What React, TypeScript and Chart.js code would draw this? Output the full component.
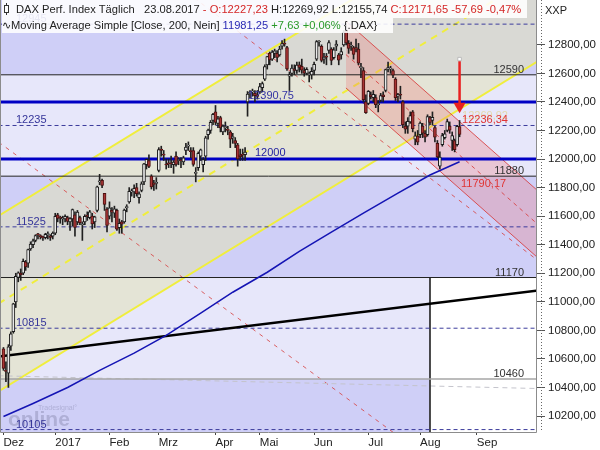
import React, { useEffect, useRef } from "react";
import { Chart, registerables } from "chart.js";

Chart.register(...registerables);

// ---------------- data ----------------
const monthTickIdx = [0, 21, 43, 63, 86, 104, 126, 148, 169, 192];
const monthTickLabels = ["Dez", "2017", "Feb", "Mrz", "Apr", "Mai", "Jun", "Jul", "Aug", "Sep"];
const priceTicks = [10200, 10400, 10600, 10800, 11000, 11200, 11400, 11600, 11800, 12000, 12200, 12400, 12600, 12800];

// daily OHLC, 01.12.2016 .. 23.08.2017
const opens = [
  10670, 10520, 10500, 10690, 10790, 11000, 11170, 11200, 11200, 11280, 11270, 11370, 11400, 11430, 11470, 11460, 11450, 11450, 11470, 11460, 11460,
  11480, 11610, 11590, 11580, 11580, 11590, 11560, 11580, 11610, 11560, 11590, 11540, 11560, 11600, 11590, 11600, 11560, 11640, 11840, 11850, 11760, 11650,
  11600, 11640, 11620, 11640, 11520, 11560, 11560, 11660, 11700, 11770, 11770, 11800, 11730, 11780, 11840, 11960, 11990, 11880, 11830, 11830,
  11920, 12070, 12030, 11960, 11970, 11970, 11960, 12020, 11990, 11990, 11980, 12060, 12090, 12060, 12060, 11900, 11940, 12020, 11960, 12020, 12170, 12200, 12270,
  12330, 12250, 12290, 12190, 12220, 12210, 12190, 12150, 12130, 12100, 12030, 12030, 12030, 12400, 12460, 12470, 12460, 12450,
  12470, 12500, 12560, 12660, 12740, 12700, 12740, 12740, 12730, 12790, 12810, 12780, 12580, 12600, 12630, 12620, 12660, 12650, 12620, 12600, 12590, 12590,
  12620, 12700, 12820, 12790, 12700, 12720, 12760, 12770, 12710, 12790, 12730, 12730, 12800, 12900, 12810, 12790, 12780, 12780, 12770, 12640, 12620, 12400,
  12390, 12450, 12430, 12430, 12380, 12410, 12450, 12480, 12630, 12630, 12620, 12560, 12440, 12450, 12400, 12230, 12230, 12260, 12330, 12140, 12160,
  12170, 12230, 12180, 12170, 12290, 12270, 12220, 12110, 11950, 12100, 12150, 12200, 12230, 12130, 12130, 12100, 12227,
];
const highs = [
  10680, 10580, 10700, 10790, 10990, 11200, 11210, 11230, 11300, 11290, 11370, 11420, 11440, 11470, 11480, 11470, 11460, 11480, 11490, 11470, 11490,
  11620, 11620, 11600, 11600, 11610, 11600, 11590, 11650, 11630, 11640, 11600, 11560, 11610, 11630, 11640, 11620, 11600, 11810, 11893, 11860, 11760, 11660,
  11700, 11660, 11670, 11650, 11580, 11570, 11650, 11680, 11800, 11790, 11820, 11830, 11770, 11840, 11970, 12000, 12030, 11890, 11850, 11870,
  12080, 12090, 12060, 12000, 12000, 12020, 11990, 12050, 12010, 12010, 12020, 12110, 12120, 12080, 12080, 11940, 12050, 12070, 12010, 12160, 12210, 12270, 12320,
  12375, 12300, 12300, 12240, 12260, 12230, 12200, 12180, 12150, 12110, 12070, 12070, 12080, 12473, 12480, 12490, 12480, 12480,
  12530, 12540, 12660, 12720, 12750, 12760, 12770, 12760, 12790, 12830, 12840, 12790, 12610, 12660, 12660, 12680, 12680, 12700, 12640, 12640, 12610, 12640,
  12680, 12830, 12830, 12800, 12740, 12740, 12830, 12780, 12780, 12830, 12740, 12780, 12900, 12951, 12830, 12820, 12790, 12840, 12810, 12670, 12640, 12450,
  12480, 12470, 12480, 12450, 12410, 12460, 12470, 12630, 12680, 12650, 12630, 12570, 12460, 12510, 12410, 12260, 12290, 12330, 12340, 12190, 12200,
  12260, 12250, 12200, 12310, 12300, 12330, 12230, 12130, 12050, 12180, 12200, 12280, 12260, 12190, 12140, 12236, 12270,
];
const lows = [
  10520, 10440, 10400, 10660, 10780, 10960, 11140, 11150, 11190, 11220, 11240, 11360, 11380, 11420, 11440, 11440, 11430, 11440, 11440, 11430, 11440,
  11470, 11560, 11550, 11540, 11560, 11540, 11500, 11530, 11460, 11540, 11540, 11430, 11540, 11570, 11580, 11510, 11520, 11630, 11820, 11800, 11640, 11490,
  11580, 11560, 11590, 11500, 11480, 11480, 11550, 11630, 11690, 11740, 11730, 11740, 11690, 11770, 11820, 11930, 11940, 11790, 11780, 11790,
  11910, 12020, 11990, 11930, 11940, 11940, 11900, 11950, 11960, 11940, 11960, 12030, 12060, 12010, 11950, 11840, 11920, 11990, 11910, 11990, 12140, 12180, 12240,
  12240, 12220, 12190, 12170, 12190, 12170, 12080, 12110, 12080, 11950, 11990, 11990, 11990, 12300, 12430, 12440, 12400, 12420,
  12460, 12470, 12550, 12630, 12660, 12690, 12710, 12680, 12720, 12770, 12790, 12620, 12480, 12580, 12590, 12600, 12610, 12600, 12580, 12590, 12540, 12560,
  12590, 12690, 12790, 12680, 12670, 12660, 12740, 12660, 12700, 12760, 12660, 12700, 12790, 12800, 12740, 12760, 12700, 12750, 12660, 12570, 12400, 12320,
  12380, 12420, 12400, 12360, 12330, 12400, 12400, 12470, 12610, 12600, 12570, 12410, 12400, 12420, 12220, 12180, 12180, 12250, 12190, 12100, 12100,
  12150, 12150, 12120, 12160, 12240, 12240, 12120, 12010, 11930, 12090, 12140, 12190, 12180, 12060, 12050, 12090, 12156,
];
const closes = [
  10534, 10513, 10684, 10775, 10986, 11179, 11203, 11190, 11284, 11244, 11366, 11404, 11427, 11464, 11469, 11456, 11449, 11473, 11475, 11451, 11481,
  11599, 11584, 11585, 11585, 11599, 11563, 11583, 11646, 11521, 11629, 11555, 11540, 11599, 11598, 11630, 11545, 11595, 11806, 11848, 11815, 11682, 11535,
  11659, 11627, 11651, 11509, 11549, 11543, 11643, 11667, 11774, 11771, 11794, 11757, 11757, 11827, 11967, 11998, 11948, 11804, 11823, 11834,
  12067, 12060, 12027, 11958, 11966, 11967, 11978, 11963, 11990, 11988, 12009, 12083, 12095, 12052, 11962, 11904, 12040, 12064, 11996, 12149, 12203, 12257, 12313,
  12257, 12282, 12218, 12230, 12225, 12201, 12139, 12154, 12109, 12000, 12016, 12027, 12049, 12455, 12468, 12473, 12444, 12438,
  12507, 12528, 12648, 12717, 12694, 12749, 12758, 12712, 12770, 12808, 12804, 12631, 12591, 12638, 12620, 12659, 12642, 12622, 12602, 12628, 12599, 12615,
  12664, 12823, 12823, 12690, 12714, 12714, 12815, 12690, 12765, 12806, 12692, 12753, 12888, 12814, 12774, 12794, 12733, 12771, 12671, 12647, 12416, 12325,
  12475, 12437, 12453, 12381, 12389, 12445, 12437, 12627, 12641, 12632, 12587, 12430, 12452, 12447, 12240, 12209, 12264, 12305, 12212, 12162, 12118,
  12251, 12182, 12154, 12297, 12257, 12293, 12154, 12015, 12014, 12165, 12177, 12263, 12203, 12165, 12065, 12229, 12172,
];

// 200-day simple moving average
const maIdx = [0, 12, 26, 39, 53, 66, 80, 93, 107, 120, 133, 146, 160, 173, 185];
const maVals = [10197, 10288, 10400, 10520, 10640, 10765, 10920, 11067, 11207, 11354, 11488, 11621, 11761, 11888, 11981];

// horizontal levels
const thickLevels = [12400, 12000];
const solidLevels = [12590, 11880, 11170];
const grayLevels = [10460];
const dashedLevels = [12945, 12235, 11525, 10815, 10105];

// background zones between the solid levels
const bandTops = [13300, 12590, 11880, 11170, 10460];
const bandBottoms = [12590, 11880, 11170, 10460, 9900];
const bandEnds = [219, 219, 219, 173, 173];
const bandDark = [true, false, true, false, true];

// drawn lines [x1, y1, x2, y2] in (bar index, price)
const yellowUpper = [-2, 11602, 218, 13927];
const yellowLower = [-2, 10373, 218, 12698];
const yellowMid = [-2, 10988, 218, 13312];
const pinkUpper = [138.9, 12966, 218, 11758];
const pinkLower = [138.9, 12498, 218, 11289];
const pinkMid = [138.9, 12732, 218, 11523];
const redDashA = [-2, 12119, 218, 9324];
const redDashB = [60, 13358, 218, 11273];
const blackTrend = [-2, 10617, 218, 11082];
const grayDash = [-2, 10482, 218, 10392];
const vLine = [173, 11170, 173, 9900];
const arrowLine = [185, 12700, 185, 12370];

// text marks
const rightLabels = ["12590", "11880", "11170", "10460"];
const rightLabelVals = [12590, 11880, 11170, 10460];
const leftLabels = ["12945", "12235", "11525", "10815", "10105"];
const leftLabelVals = [12945, 12235, 11525, 10815, 10105];
const noteTexts = ["12000", "12390,75", "12269,92", "12236,34", "11790,17"];
const noteIdx = [102, 99.2, 186, 186, 185.6];
const noteVals = [12000, 12390.75, 12269.92, 12236.34, 11790.17];

// ---------------- styling ----------------
const X_MIN = -1.0;
const X_MAX = 216.0;
const Y_MIN = 10088;
const Y_MAX = 13114;
const DARK = "#cfcff7";
const LIGHT = "#e7e7fa";
const FONT = '"Liberation Sans", Arial, sans-serif';
const noteColors = ["#2323a0", "#3434a4", "rgba(225,205,110,0.55)", "#e03434", "#e03434"];
const noteDy = [-3, -4, -2, -2, -2];

const seg = (a: number[]) => [
  { x: a[0], y: a[1] },
  { x: a[2], y: a[3] },
];
const hseg = (v: number, x2 = 219) => [
  { x: -2, y: v },
  { x: x2, y: v },
];

function line(data: any[], color: string, width: number, dash: number[], order: number, extra: any = {}) {
  return {
    type: "line",
    data,
    borderColor: color,
    borderWidth: width,
    borderDash: dash,
    pointRadius: 0,
    fill: false,
    tension: 0,
    order,
    ...extra,
  };
}

function buildDatasets() {
  const ds: any[] = [];
  bandTops.forEach((top, i) => {
    ds.push({
      type: "line",
      data: hseg(top, bandEnds[i]),
      borderWidth: 0,
      borderColor: "rgba(0,0,0,0)",
      pointRadius: 0,
      fill: { value: bandBottoms[i] },
      backgroundColor: bandDark[i] ? DARK : LIGHT,
      order: 100,
    });
  });
  const iYL = ds.length;
  ds.push(line(seg(yellowLower), "#f0ee3c", 2, [], 89));
  ds.push(line(seg(yellowUpper), "#f0ee3c", 2, [], 90, { fill: iYL, backgroundColor: "rgba(226,226,184,0.55)" }));
  ds.push(line(seg(yellowMid), "#f0ee3c", 2, [7, 6], 88));
  const iPL = ds.length;
  ds.push(line(seg(pinkLower), "rgba(215,60,60,0.85)", 1, [], 84));
  ds.push(line(seg(pinkUpper), "rgba(215,60,60,0.85)", 1, [], 85, { fill: iPL, backgroundColor: "rgba(235,110,110,0.27)" }));
  ds.push(line(seg(pinkMid), "rgba(215,60,60,0.85)", 1, [4, 4], 83));
  ds.push(line(seg(redDashA), "rgba(215,70,70,0.85)", 1, [4, 5], 82));
  ds.push(line(seg(redDashB), "rgba(215,70,70,0.85)", 1, [4, 5], 82));
  ds.push(line(seg(grayDash), "#c4c4cc", 1, [5, 4], 81));
  grayLevels.forEach((v) => ds.push(line(hseg(v), "#a6a6a6", 1.5, [], 80)));
  dashedLevels.forEach((v) => ds.push(line(hseg(v), "#3c3c9c", 1, [4, 3], 80)));
  solidLevels.forEach((v) => ds.push(line(hseg(v), "#222222", 1, [], 80)));
  ds.push(line(seg(vLine), "#333333", 1, [], 80));
  thickLevels.forEach((v) => ds.push(line(hseg(v), "#0000c4", 3, [], 75)));
  ds.push(line(seg(blackTrend), "#000000", 2.5, [], 60));
  ds.push(
    line(
      maIdx.map((x, i) => ({ x, y: maVals[i] })),
      "#1414b4",
      1.5,
      [],
      50
    )
  );
  // candles
  ds.push({
    type: "bar",
    data: highs.map((h, i) => ({ x: i, y: [lows[i], h] })),
    backgroundColor: "#202020",
    borderWidth: 0,
    barThickness: 1,
    grouped: false,
    order: 40,
  });
  const up = closes.map((c, i) => c >= opens[i]);
  ds.push({
    type: "bar",
    data: closes.map((c, i) => ({ x: i, y: [Math.min(c, opens[i]), Math.max(c, opens[i])] })),
    backgroundColor: up.map((u) => (u ? "#e9e9e9" : "#a83434")),
    borderColor: up.map((u) => (u ? "#1c1c1c" : "#4a1010")),
    borderWidth: 1,
    borderSkipped: false,
    barThickness: 3,
    minBarLength: 1,
    grouped: false,
    order: 30,
  });
  // arrow
  ds.push(
    line(seg(arrowLine), "#e82020", 2.5, [], 10, {
      pointRadius: [2.5, 7],
      pointStyle: ["rect", "triangle"],
      rotation: [0, 180],
      pointBackgroundColor: ["#ffffff", "#e82020"],
      pointBorderColor: ["#bbbbbb", "#e82020"],
      pointBorderWidth: [1, 0],
    })
  );
  return ds;
}

const overlayPlugin = {
  id: "overlay",
  afterDatasetsDraw(chart: any) {
    const { ctx, chartArea: ca, scales } = chart;
    const xs = scales.x;
    const ys = scales.y;
    ctx.save();
    // watermark
    ctx.fillStyle = "rgba(110,110,150,0.33)";
    ctx.font = `bold 21px ${FONT}`;
    ctx.textAlign = "left";
    ctx.textBaseline = "alphabetic";
    ctx.fillText("online", 8, 426);
    ctx.font = `7px ${FONT}`;
    ctx.fillText("Tradesignal\u00b0", 38, 410);

    ctx.font = `11px ${FONT}`;
    ctx.textAlign = "right";
    ctx.fillStyle = "#333333";
    rightLabels.forEach((t, i) => ctx.fillText(t, ca.right - 12, ys.getPixelForValue(rightLabelVals[i]) - 2));
    ctx.textAlign = "left";
    ctx.fillStyle = "#35359a";
    leftLabels.forEach((t, i) => ctx.fillText(t, ca.left + 15, ys.getPixelForValue(leftLabelVals[i]) - 2));
    noteTexts.forEach((t, i) => {
      ctx.fillStyle = noteColors[i];
      ctx.fillText(t, xs.getPixelForValue(noteIdx[i]), ys.getPixelForValue(noteVals[i]) + noteDy[i]);
    });
    // frame
    ctx.strokeStyle = "#8c8c8c";
    ctx.lineWidth = 1;
    ctx.beginPath();
    ctx.moveTo(ca.left - 0.5, 0);
    ctx.lineTo(ca.left - 0.5, ca.bottom + 0.5);
    ctx.lineTo(ca.right + 0.5, ca.bottom + 0.5);
    ctx.lineTo(ca.right + 0.5, 0);
    ctx.stroke();
    // dotted axis line
    ctx.strokeStyle = "#666666";
    ctx.setLineDash([1, 2]);
    ctx.beginPath();
    ctx.moveTo(ca.right + 5.5, 0);
    ctx.lineTo(ca.right + 5.5, ca.bottom);
    ctx.stroke();
    ctx.setLineDash([]);
    ctx.fillStyle = "#222222";
    ctx.font = `11px ${FONT}`;
    ctx.fillText("XXP", ca.right + 9, 14);
    ctx.restore();
  },
};

export default function App() {
  const ref = useRef<HTMLCanvasElement | null>(null);
  useEffect(() => {
    if (!ref.current) return;
    const chart = new Chart(ref.current, {
      type: "line",
      data: { datasets: buildDatasets() as any },
      options: {
        animation: false,
        responsive: false,
        devicePixelRatio: 1,
        layout: { autoPadding: false, padding: { left: 1, right: 0, top: 0, bottom: 0 } },
        plugins: { legend: { display: false }, tooltip: { enabled: false } },
        scales: {
          x: {
            type: "linear",
            min: X_MIN,
            max: X_MAX,
            offset: false,
            afterBuildTicks: (s: any) => {
              s.ticks = monthTickIdx.map((v) => ({ value: v }));
            },
            afterFit: (s: any) => {
              s.height = 18;
              s.paddingLeft = 0;
              s.paddingRight = 0;
            },
            ticks: {
              autoSkip: false,
              maxRotation: 0,
              align: "start",
              padding: 1,
              color: "#222222",
              font: { family: FONT, size: 11.5 },
              callback: (v: any) => monthTickLabels[monthTickIdx.indexOf(Number(v))] ?? "",
            },
            grid: { display: true, drawOnChartArea: false, drawTicks: true, tickLength: 3, color: "#444444", offset: false },
            border: { display: false },
          },
          y: {
            type: "linear",
            position: "right",
            min: Y_MIN,
            max: Y_MAX,
            afterBuildTicks: (s: any) => {
              s.ticks = priceTicks.map((v) => ({ value: v }));
            },
            afterFit: (s: any) => {
              s.width = 64;
              s.paddingTop = 0;
              s.paddingBottom = 0;
            },
            ticks: {
              padding: 3,
              color: "#222222",
              font: { family: FONT, size: 11.5 },
              callback: (v: any) => Number(v).toFixed(2).replace(".", ","),
            },
            grid: { display: true, drawOnChartArea: false, drawTicks: true, tickLength: 9, color: "#555555" },
            border: { display: false },
          },
        },
      } as any,
      plugins: [overlayPlugin],
    });
    return () => chart.destroy();
  }, []);

  const txt: React.CSSProperties = { fontFamily: FONT, fontSize: 11.15, whiteSpace: "nowrap", color: "#222" };
  return (
    <div style={{ position: "fixed", left: 0, top: 0, width: 600, height: 450, background: "#fff", overflow: "hidden" }}>
      <canvas ref={ref} width={600} height={450} style={{ display: "block", width: 600, height: 450 }} />
      <div style={{ position: "absolute", left: 2, top: 0, width: 525, height: 18, background: "rgba(255,255,255,0.88)", ...txt }}>
        <span style={{ position: "absolute", left: 4, top: 3, width: 1, height: 12, background: "#333" }} />
        <span style={{ position: "absolute", left: 2, top: 5, width: 3, height: 6, border: "1px solid #333", background: "#fff" }} />
        <span style={{ position: "absolute", left: 14, top: 0, lineHeight: "18px" }}>
          DAX Perf. Index Täglich{"\u00a0\u00a0 "}23.08.2017 <span style={{ color: "#d42626" }}>- O:12227,23</span> H:12269,92 L:12155,74{" "}
          <span style={{ color: "#d42626" }}>C:12171,65 -57,69 -0,47%</span>
        </span>
      </div>
      <div style={{ position: "absolute", left: 2, top: 18, width: 391, height: 15, background: "rgba(255,255,255,0.88)", ...txt }}>
        <span style={{ position: "absolute", left: 0, top: -1, lineHeight: "17px" }}>
          {"\u223f"}Moving Average Simple [Close, 200, Nein] <span style={{ color: "#2a2ab4" }}>11981,25</span>{" "}
          <span style={{ color: "#2a9a2a" }}>+7,63 +0,06%</span> {"{.DAX}"}
        </span>
      </div>
    </div>
  );
}
